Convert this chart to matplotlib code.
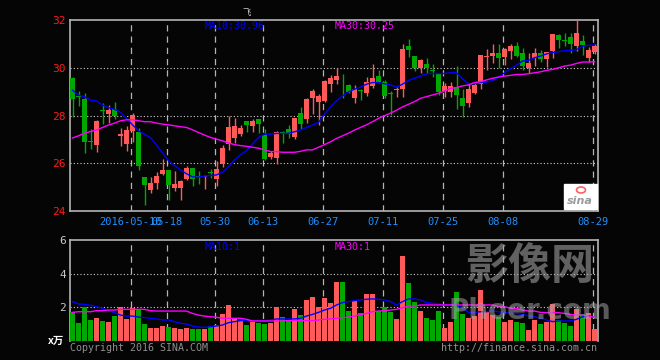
import numpy as np
import matplotlib
matplotlib.use("Agg")
import matplotlib.pyplot as plt
from matplotlib.patches import Rectangle, Ellipse

# daily candles, index 0 = first visible trading day
opens = [29.56, 28.82, 28.69, 26.95, 26.76, 28.21, 28.06, 28.27, 27.14, 26.82,
         27.35, 27.32, 25.44, 24.88, 25.19, 25.55, 25.72, 24.96, 24.96, 25.34,
         25.81, 25.46, 25.44, 25.65, 25.34, 25.97, 26.81, 27.07, 27.23, 27.77,
         27.56, 27.84, 27.18, 26.25, 26.23, 27.30, 27.42, 27.09, 28.10, 27.85,
         28.75, 28.58, 28.61, 29.32, 29.49, 29.59, 29.28, 28.75, 29.08, 28.95,
         29.24, 29.67, 29.39, 28.96, 29.05, 29.11, 30.92, 30.50, 30.00, 30.17,
         29.92, 29.79, 29.03, 29.00, 29.21, 28.75, 28.54, 28.95, 29.32, 30.47,
         30.49, 30.63, 30.44, 30.71, 30.92, 30.60, 29.98, 30.40, 30.63, 30.35,
         30.70, 31.37, 31.18, 31.28, 30.92, 31.12, 30.42, 30.67]
closes = [28.69, 28.76, 26.90, 26.91, 27.77, 28.17, 28.23, 27.98, 27.23, 27.39,
          28.02, 25.88, 25.09, 25.19, 25.47, 25.72, 25.09, 25.13, 25.27, 25.81,
          25.34, 25.42, 25.48, 25.61, 25.76, 26.65, 27.52, 27.57, 27.48, 27.60,
          27.77, 27.64, 26.18, 26.44, 27.32, 27.26, 27.21, 27.91, 27.66, 28.68,
          29.04, 28.82, 29.46, 29.58, 29.67, 29.55, 29.00, 29.10, 29.04, 29.42,
          29.58, 29.42, 28.82, 28.92, 29.07, 30.79, 30.74, 30.00, 30.32, 30.00,
          29.86, 29.00, 29.24, 29.24, 28.85, 28.41, 29.10, 29.26, 30.53, 30.49,
          30.63, 30.42, 30.79, 30.92, 30.50, 30.09, 30.21, 30.63, 30.35, 30.67,
          31.41, 31.16, 31.14, 31.00, 31.44, 30.95, 30.74, 30.92]
highs = [29.60, 29.03, 28.93, 27.42, 27.81, 28.54, 28.44, 28.57, 27.49, 27.56,
         28.12, 27.46, 25.44, 25.44, 25.62, 26.19, 25.72, 25.68, 25.30, 25.87,
         25.81, 25.68, 25.52, 25.75, 26.09, 26.76, 27.98, 27.88, 27.61, 27.77,
         27.84, 27.87, 27.43, 26.53, 27.36, 27.35, 27.59, 27.91, 28.34, 28.72,
         29.12, 28.91, 29.50, 29.70, 30.00, 29.74, 29.32, 29.28, 29.11, 29.63,
         30.16, 29.91, 29.50, 29.03, 29.21, 30.98, 31.20, 30.50, 30.35, 30.40,
         30.14, 29.79, 29.35, 29.42, 30.07, 29.10, 29.35, 29.38, 30.53, 30.77,
         31.00, 31.00, 30.81, 31.00, 31.07, 30.81, 30.60, 30.81, 30.74, 30.67,
         31.41, 31.41, 31.47, 31.47, 32.00, 31.37, 30.85, 31.00]
lows = [27.95, 28.41, 26.44, 26.58, 26.48, 27.64, 27.67, 27.84, 26.74, 26.53,
        26.90, 25.72, 24.25, 24.74, 24.91, 25.51, 24.44, 24.85, 24.44, 25.30,
        25.05, 25.13, 24.91, 25.37, 25.05, 25.86, 26.55, 26.84, 27.15, 27.32,
        27.30, 27.28, 26.14, 26.19, 25.96, 26.86, 27.05, 27.00, 27.45, 27.67,
        28.06, 27.61, 28.58, 29.00, 29.31, 28.75, 28.93, 28.54, 28.65, 28.82,
        29.14, 29.35, 28.72, 28.02, 28.79, 28.79, 30.44, 29.86, 29.79, 29.77,
        29.63, 28.86, 28.79, 28.76, 28.27, 27.95, 28.34, 28.88, 29.10, 29.91,
        30.21, 29.98, 30.12, 30.35, 30.46, 29.91, 29.77, 30.09, 30.22, 30.04,
        30.40, 30.81, 30.91, 30.60, 30.71, 30.53, 30.25, 30.56]
ma10 = [29.06, 28.85, 28.79, 28.64, 28.61, 28.44, 28.33, 28.26, 28.13, 27.88,
        27.61, 27.36, 27.21, 27.07, 26.76, 26.43, 26.11, 25.90, 25.72, 25.56,
        25.43, 25.42, 25.46, 25.49, 25.51, 25.63, 25.86, 26.14, 26.35, 26.53,
        26.81, 27.08, 27.22, 27.22, 27.25, 27.25, 27.26, 27.32, 27.39, 27.50,
        27.60, 27.71, 28.06, 28.36, 28.61, 28.82, 28.99, 29.10, 29.19, 29.31,
        29.38, 29.38, 29.33, 29.28, 29.19, 29.31, 29.47, 29.56, 29.65, 29.75,
        29.76, 29.76, 29.76, 29.79, 29.79, 29.54, 29.33, 29.33, 29.38, 29.40,
        29.47, 29.61, 29.79, 29.96, 30.11, 30.28, 30.31, 30.42, 30.49, 30.58,
        30.63, 30.67, 30.72, 30.72, 30.76, 30.90, 30.94, 30.96]
ma30 = [27.06, 27.15, 27.26, 27.33, 27.39, 27.50, 27.60, 27.68, 27.78, 27.82,
        27.82, 27.78, 27.74, 27.74, 27.68, 27.64, 27.61, 27.57, 27.53, 27.50,
        27.40, 27.29, 27.18, 27.08, 27.01, 26.94, 26.85, 26.78, 26.74, 26.71,
        26.67, 26.63, 26.56, 26.49, 26.49, 26.46, 26.46, 26.46, 26.50, 26.56,
        26.56, 26.67, 26.78, 26.90, 27.04, 27.15, 27.26, 27.39, 27.50, 27.61,
        27.74, 27.88, 27.99, 28.10, 28.22, 28.36, 28.47, 28.58, 28.72, 28.79,
        28.86, 28.93, 29.03, 29.13, 29.17, 29.24, 29.28, 29.38, 29.42, 29.49,
        29.56, 29.61, 29.65, 29.68, 29.72, 29.72, 29.75, 29.79, 29.83, 29.89,
        29.93, 30.00, 30.07, 30.11, 30.18, 30.24, 30.24, 30.25]

# volume in units of the bottom axis
volumes = [1.70, 1.09, 2.04, 1.25, 1.37, 1.19, 1.13, 1.50, 2.04, 1.33,
           1.94, 1.90, 1.01, 0.77, 0.77, 0.91, 0.83, 0.75, 0.71, 0.79,
           0.71, 0.71, 0.73, 0.89, 0.95, 1.58, 2.14, 1.35, 1.21, 0.95,
           1.15, 1.09, 1.01, 1.05, 2.02, 1.41, 1.25, 1.90, 1.54, 2.44,
           2.61, 2.02, 2.53, 2.24, 3.51, 3.51, 1.78, 2.38, 1.64, 2.79,
           2.79, 1.78, 2.02, 1.72, 1.31, 5.05, 3.45, 2.32, 1.78, 1.37,
           1.25, 1.78, 0.77, 1.13, 2.93, 1.60, 1.37, 1.49, 3.01, 1.78,
           1.54, 1.43, 1.13, 1.25, 1.13, 1.07, 0.65, 1.25, 0.99, 1.13,
           2.20, 1.25, 1.07, 0.89, 1.90, 1.60, 1.66, 0.71]
vol_ma10 = [2.34, 2.20, 2.18, 2.12, 2.04, 1.94, 1.80, 1.68, 1.54, 1.48,
            1.48, 1.42, 1.39, 1.35, 1.31, 1.25, 1.25, 1.15, 1.05, 1.01,
            0.89, 0.83, 0.81, 0.85, 0.89, 0.95, 1.09, 1.15, 1.21, 1.21,
            1.19, 1.19, 1.19, 1.25, 1.31, 1.31, 1.31, 1.31, 1.35, 1.48,
            1.58, 1.70, 1.84, 1.94, 2.14, 2.28, 2.34, 2.40, 2.44, 2.48,
            2.50, 2.48, 2.44, 2.34, 2.14, 2.34, 2.50, 2.50, 2.44, 2.28,
            2.24, 2.20, 2.14, 2.14, 2.14, 1.94, 1.70, 1.70, 1.74, 1.74,
            1.78, 1.74, 1.70, 1.64, 1.64, 1.58, 1.50, 1.44, 1.35, 1.25,
            1.15, 1.19, 1.19, 1.19, 1.29, 1.44, 1.50, 1.41]
vol_ma30 = [1.70, 1.74, 1.74, 1.74, 1.80, 1.80, 1.84, 1.84, 1.88, 1.88,
            1.88, 1.88, 1.88, 1.80, 1.78, 1.78, 1.78, 1.78, 1.78, 1.78,
            1.64, 1.54, 1.48, 1.44, 1.41, 1.35, 1.35, 1.35, 1.35, 1.29,
            1.19, 1.19, 1.19, 1.19, 1.19, 1.19, 1.21, 1.21, 1.21, 1.21,
            1.21, 1.25, 1.29, 1.31, 1.35, 1.39, 1.42, 1.48, 1.58, 1.64,
            1.74, 1.78, 1.80, 1.84, 1.88, 1.98, 2.08, 2.08, 2.14, 2.14,
            2.14, 2.14, 2.14, 2.14, 2.14, 2.14, 2.14, 2.14, 2.14, 2.14,
            2.14, 2.04, 2.04, 1.94, 1.94, 1.84, 1.78, 1.78, 1.70, 1.68,
            1.68, 1.68, 1.64, 1.58, 1.54, 1.54, 1.48, 1.41]

date_idx = [10, 16, 24, 32, 42, 52, 62, 72, 87]
date_labels = ["2016-05-10", "05-18", "05-30", "06-13", "06-27",
               "07-11", "07-25", "08-08", "08-29"]
price_ticks = [24, 26, 28, 30, 32]
vol_ticks = [2, 4, 6]

RED = "#ff5a5a"
GREEN = "#00a800"
BLUE = "#0000ff"
MAG = "#ff00ff"
FRAME = "#b4b4b4"
MONO = "DejaVu Sans Mono"

W, H = 660, 360
fig = plt.figure(figsize=(W / 100, H / 100), dpi=100, facecolor="#050505")


def box(x0, y0, x1, y1):
    return [x0 / W, 1 - y1 / H, (x1 - x0) / W, (y1 - y0) / H]


def fig_text(x, y, s, **kw):
    fig.text(x / W, 1 - y / H, s, **kw)


ax = fig.add_axes(box(70, 20, 598, 211))
axv = fig.add_axes(box(70, 240, 598, 341))

n = len(opens)
x = np.arange(n)
up = [c >= o for o, c in zip(opens, closes)]
cols = [RED if u else GREEN for u in up]

for a in (ax, axv):
    a.set_facecolor("#050505")
    a.set_xlim(-0.4167, 87.583)
    for s in a.spines.values():
        s.set_color(FRAME)
        s.set_linewidth(1.2)
    a.tick_params(length=0)
    for i in date_idx:
        a.axvline(i - 0.33, color=FRAME, lw=0.9, ls=(0, (5, 4)), zorder=1)

axv.spines["bottom"].set_visible(False)

# candles
ax.vlines(x, lows, highs, colors=cols, lw=1.0, zorder=3)
bottoms = [min(o, c) for o, c in zip(opens, closes)]
heights = [max(abs(c - o), 0.04) for o, c in zip(opens, closes)]
ax.bar(x, heights, bottom=bottoms, width=0.83, color=cols, lw=0, zorder=3)
ax.plot(x, ma10, color=BLUE, lw=1.0, zorder=4)
ax.plot(x, ma30, color=MAG, lw=1.0, zorder=4)

ax.set_ylim(24, 32)
ax.set_yticks(price_ticks)
ax.set_yticklabels([str(t) for t in price_ticks], color="#ff1a1a",
                   fontsize=8, family=MONO)
ax.tick_params(axis="y", pad=3)
for t in [26, 28, 30]:
    ax.axhline(t, color="#d0d0d0", lw=0.8, ls=(0, (1, 2)), zorder=1)
ax.set_xticks([i - 0.33 for i in date_idx])
ax.set_xticklabels(date_labels, color="#2090ff", fontsize=7.5, family=MONO)
ax.tick_params(axis="x", pad=4)

# volume
axv.bar(x, volumes, width=0.83, color=cols, lw=0, zorder=3)
axv.plot(x, vol_ma10, color=BLUE, lw=1.0, zorder=4)
axv.plot(x, vol_ma30, color=MAG, lw=1.0, zorder=4)
axv.set_ylim(0, 6)
axv.set_yticks(vol_ticks)
axv.set_yticklabels([str(t) for t in vol_ticks], color="#c8c8c8",
                    fontsize=8, family=MONO)
axv.tick_params(axis="y", pad=3)
axv.set_xticks([])
for t in [2, 4]:
    axv.axhline(t, color="#d0d0d0", lw=0.8, ls=(0, (1, 2)), zorder=1)

# labels
fig_text(205, 26, "MA10:30.96", color=BLUE, fontsize=7.2, family=MONO, va="center")
fig_text(335, 26, "MA30:30.25", color=MAG, fontsize=7.2, family=MONO, va="center")
fig_text(205, 247, "MA10:1", color=BLUE, fontsize=7.2, family=MONO, va="center")
fig_text(335, 247, "MA30:1", color=MAG, fontsize=7.2, family=MONO, va="center")
fig_text(247, 12, "飞", color="#d0d0d0", fontsize=6,
         family=["Noto Sans CJK SC", "DejaVu Sans"], ha="center", va="center")
fig_text(64, 341, "x万", color="#ffffff", fontsize=7.5, weight="bold",
         family=["Noto Sans CJK SC", "DejaVu Sans"], ha="right", va="center")
fig_text(70, 348, "Copyright 2016 SINA.COM", color="#909090", fontsize=7.2,
         family=MONO, va="center")
fig_text(597, 348, "http://finance.sina.com.cn", color="#909090", fontsize=7.2,
         family=MONO, va="center", ha="right")

# sina logo box
fig.patches.append(Rectangle((564 / W, 1 - 209 / H), 33 / W, 25 / H,
                             transform=fig.transFigure, color="white", zorder=5))
fig.patches.append(Ellipse((581 / W, 1 - 190 / H), 9 / W, 6 / H,
                           transform=fig.transFigure, fill=False,
                           edgecolor="#ff6060", lw=1.2, zorder=6))
fig_text(580, 201, "sina", color="#9a9a9a", fontsize=8, weight="bold",
         style="italic", ha="center", va="center", zorder=7)

# watermark
fig_text(530, 266, "影像网", color="#a0a0a0", alpha=0.6, fontsize=31,
         weight="bold", family=["Noto Sans CJK SC", "DejaVu Sans"],
         ha="center", va="center", zorder=8)
fig_text(530, 311, "Phoer.com", color="#a0a0a0", alpha=0.55, fontsize=20,
         weight="bold", family="DejaVu Sans", ha="center", va="center", zorder=8)

fig.savefig("out.png", dpi=100, facecolor=fig.get_facecolor())
